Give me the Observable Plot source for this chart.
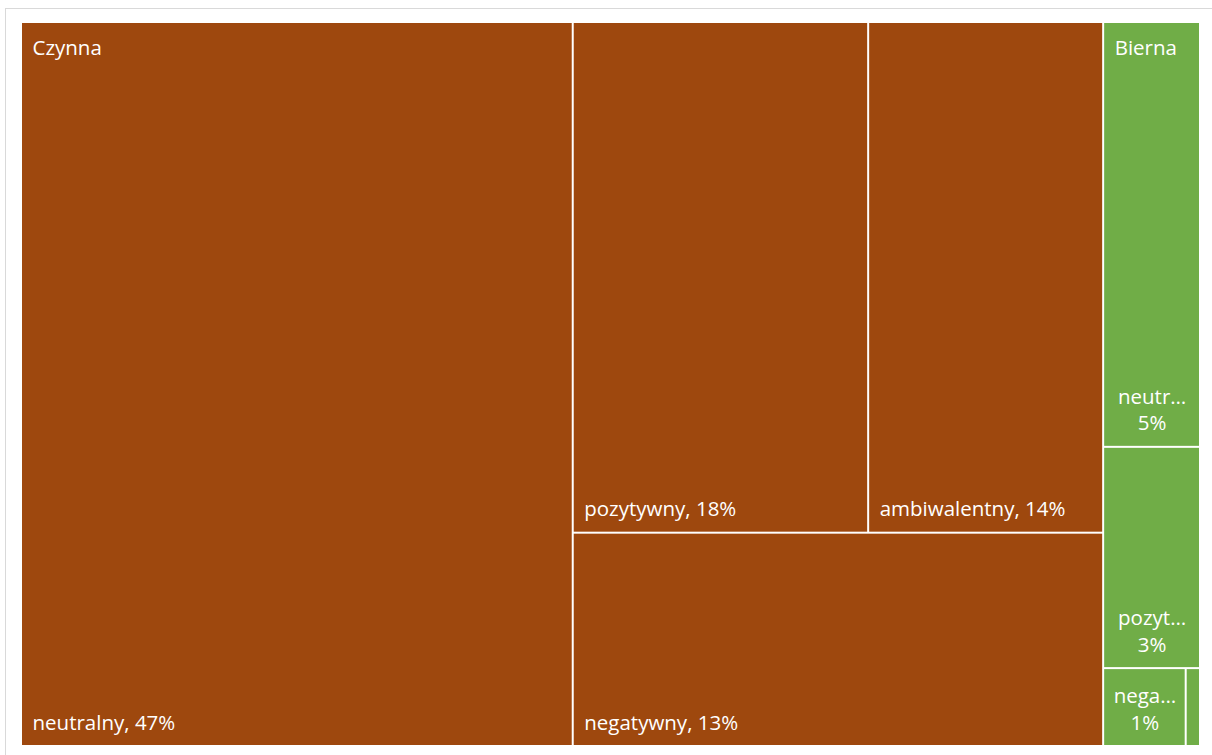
<!DOCTYPE html>
<html><head><meta charset="utf-8">
<script src="https://cdn.jsdelivr.net/npm/d3@7"></script>
<script src="https://cdn.jsdelivr.net/npm/@observablehq/plot@0.6"></script>
<style>
html,body{margin:0;padding:0;background:#fff;width:1212px;height:755px;overflow:hidden;}
#frame{position:absolute;left:5px;top:8px;width:1300px;height:1000px;border:1px solid #d9d9d9;box-sizing:border-box;}
#chart{position:absolute;left:0;top:0;}
</style></head><body><div id="frame"></div><div id="chart"></div>
<script>
// ---- data ----
const groups = ["Czynna", "Bierna"];
const groupColors = ["#9E480E", "#70AD47"];
const czynnaCategories = ["neutralny", "pozytywny", "ambiwalentny", "negatywny"];
const czynnaValues = [46.6, 17.6, 14.0, 13.2];
const biernaCategories = ["neutralny", "pozytywny", "negatywny", "ambiwalentny"];
const biernaValues = [4.8, 2.5, 0.75, 0.13];

const FONT_SIZE = 20.5, FONT_FAMILY = "Open Sans";
const W = 1177, H = 722;

const root = d3.hierarchy({
  name: "root",
  children: [
    {name: groups[0], color: groupColors[0], children: czynnaCategories.map((c, i) => ({name: c, value: czynnaValues[i]}))},
    {name: groups[1], color: groupColors[1], children: biernaCategories.map((c, i) => ({name: c, value: biernaValues[i]}))}
  ]
}).sum(d => d.value || 0).sort((a, b) => b.value - a.value);

// Excel-like squarified tiling: grow a row while the first item's aspect improves
function excelTile(parent, x0, y0, x1, y1) {
  const nodes = parent.children;
  let i0 = 0, value = parent.value;
  while (i0 < nodes.length) {
    const dx = x1 - x0, dy = y1 - y0;
    const rowIsHorizontal = dx < dy;
    const side = Math.min(dx, dy), other = Math.max(dx, dy);
    const firstRatio = s => {
      const thick = other * s / value, len = side * nodes[i0].value / s;
      return Math.max(thick / len, len / thick);
    };
    let i1 = i0 + 1, sum = nodes[i0].value, best = firstRatio(sum);
    while (i1 < nodes.length) {
      const r = firstRatio(sum + nodes[i1].value);
      if (r >= best) break;
      best = r; sum += nodes[i1].value; i1++;
    }
    const row = {children: nodes.slice(i0, i1), value: sum};
    if (i1 >= nodes.length) {
      if (rowIsHorizontal) d3.treemapDice(row, x0, y0, x1, y1); else d3.treemapSlice(row, x0, y0, x1, y1);
    } else if (rowIsHorizontal) {
      const yy = y0 + dy * sum / value; d3.treemapDice(row, x0, y0, x1, yy); y0 = yy;
    } else {
      const xx = x0 + dx * sum / value; d3.treemapSlice(row, x0, y0, xx, y1); x0 = xx;
    }
    value -= sum; i0 = i1;
  }
}
d3.treemap().size([W, H]).tile(excelTile).round(false)(root);

const leaves = root.leaves();
const parents = root.children;

// label building
const ctx = document.createElement("canvas").getContext("2d");
ctx.font = `${FONT_SIZE}px "${FONT_FAMILY}"`;
const tw = s => ctx.measureText(s).width;
const PAD = 10;
function truncate(s, avail) {
  if (tw(s) <= avail) return s;
  for (let k = s.length - 1; k > 0; k--) { const t = s.slice(0, k) + "…"; if (tw(t) <= avail) return t; }
  return "";
}
const wideLabels = [], narrowLabels = [];
for (const d of leaves) {
  const w = d.x1 - d.x0, h = d.y1 - d.y0;
  const pct = Math.round(d.value) + "%";
  const full = d.data.name + ", " + pct;
  if (tw(full) <= w - 2 * PAD) wideLabels.push({x: d.x0, y: d.y1, text: full});
  else if (w > 40 && h > 60) {
    const name = truncate(d.data.name, w * 0.77);
    narrowLabels.push({x: (d.x0 + d.x1) / 2, y: d.y1, text: name + "\n" + pct});
  }
}

const chart = Plot.plot({
  width: 1212, height: 755,
  margin: 0,
  style: {background: "transparent"},
  x: {domain: [0, W], range: [21, 1200], axis: null},
  y: {domain: [0, H], range: [22, 746], axis: null},
  marks: [
    Plot.rect(leaves, {x1: "x0", x2: "x1", y1: "y0", y2: "y1", fill: d => d.parent.data.color, inset: 1}),
    Plot.text(parents, {x: "x0", y: "y0", text: d => d.data.name, dx: 11, dy: 18, textAnchor: "start", lineAnchor: "top", fill: "white", fontSize: FONT_SIZE, fontFamily: FONT_FAMILY}),
    Plot.text(wideLabels, {x: "x", y: "y", text: "text", dx: 11, dy: -17, textAnchor: "start", lineAnchor: "bottom", fill: "white", fontSize: FONT_SIZE, fontFamily: FONT_FAMILY}),
    Plot.text(narrowLabels, {x: "x", y: "y", text: "text", dy: -17, textAnchor: "middle", lineAnchor: "bottom", lineHeight: 1.3, fill: "white", fontSize: FONT_SIZE, fontFamily: FONT_FAMILY})
  ]
});
document.getElementById("chart").appendChild(chart);
</script></body></html>
